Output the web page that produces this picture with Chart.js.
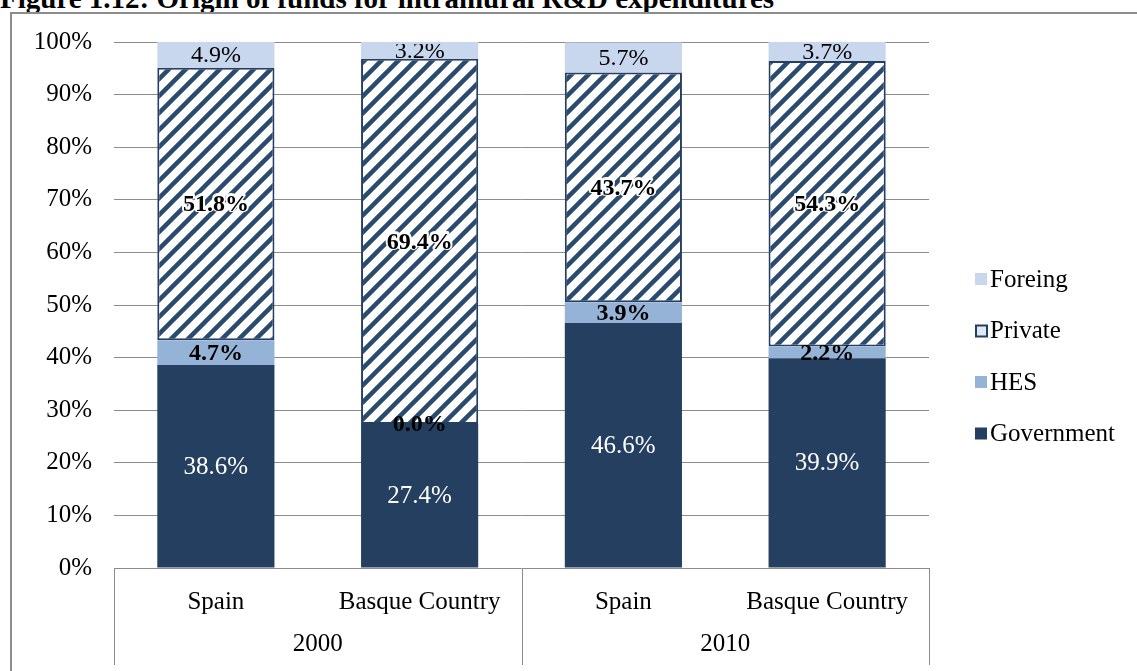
<!DOCTYPE html>
<html>
<head>
<meta charset="utf-8">
<script src="https://cdn.jsdelivr.net/npm/chart.js@4.4.0/dist/chart.umd.min.js"></script>
<style>
  html, body { margin: 0; padding: 0; background: #fff; overflow: hidden; }
  #wrap { position: relative; width: 1137px; height: 671px; overflow: hidden; }
  #title { position: absolute; left: 0; top: -18px; font: bold 29px "Liberation Serif", "Times New Roman", serif; white-space: nowrap; color: #000; }
  #frame { position: absolute; left: 10px; top: 12px; width: 1140px; height: 700px; border: 2px solid #8c8c8c; box-sizing: border-box; }
  canvas { position: absolute; left: 0; top: 0; }
</style>
</head>
<body>
<div id="wrap">
  <div id="title">Figure 1.12: Origin of funds for intramural R&amp;D expenditures</div>
  <div id="frame"></div>
  <canvas id="chart" width="1137" height="671"></canvas>
</div>
<script>
// chart data
const countries = ['Spain', 'Basque Country', 'Spain', 'Basque Country'];
const years = ['2000', '2010'];
const government = [38.6, 27.4, 46.6, 39.9];
const hes = [4.7, 0.0, 3.9, 2.2];
const privateFunds = [51.8, 69.4, 43.7, 54.3];
const foreign = [4.9, 3.2, 5.7, 3.7];
const yTicks = [0, 10, 20, 30, 40, 50, 60, 70, 80, 90, 100];

const SERIF = '"Liberation Serif", "Times New Roman", serif';
const NAVY = '#243f60';

function makeHatch() {
  const size = 17;
  const c = document.createElement('canvas');
  c.width = size; c.height = size;
  const g = c.getContext('2d');
  g.fillStyle = '#fff';
  g.fillRect(0, 0, size, size);
  g.strokeStyle = '#2b4a6f';
  g.lineWidth = 4.5;
  g.beginPath();
  g.moveTo(-size / 2, size / 2); g.lineTo(size / 2, -size / 2);
  g.moveTo(0, size); g.lineTo(size, 0);
  g.moveTo(size / 2, size * 1.5); g.lineTo(size * 1.5, size / 2);
  g.stroke();
  return g.createPattern(c, 'repeat');
}

// value labels inside each segment
const segmentLabels = {
  id: 'segmentLabels',
  afterDatasetsDraw(chart) {
    const ctx = chart.ctx;
    const area = chart.chartArea;
    ctx.save();
    ctx.beginPath();
    ctx.rect(area.left, area.top + 2, area.right - area.left, area.bottom - area.top);
    ctx.clip();
    ctx.textAlign = 'center';
    ctx.textBaseline = 'middle';
    chart.data.datasets.forEach((ds, i) => {
      const meta = chart.getDatasetMeta(i);
      meta.data.forEach((bar, j) => {
        const p = bar.getProps(['x', 'y', 'base'], true);
        const cy = (p.y + p.base) / 2;
        const txt = ds.data[j].toFixed(1) + '%';
        ctx.font = ds.labelFont;
        if (ds.labelHalo) {
          ctx.lineWidth = 4;
          ctx.strokeStyle = '#fff';
          ctx.lineJoin = 'round';
          ctx.strokeText(txt, p.x, cy);
        }
        ctx.fillStyle = ds.labelColor;
        ctx.fillText(txt, p.x, cy + 1);
      });
    });
    ctx.restore();
  }
};

// two level category axis + legend on the right
const axisAndLegend = {
  id: 'axisAndLegend',
  afterDraw(chart) {
    const ctx = chart.ctx;
    const x = chart.scales.x;
    const area = chart.chartArea;
    ctx.save();
    ctx.strokeStyle = '#8c8c8c';
    ctx.lineWidth = 1;
    [area.left, x.getPixelForValue(1.5), area.right].forEach(px => {
      ctx.beginPath();
      ctx.moveTo(Math.round(px) + 0.5, area.bottom);
      ctx.lineTo(Math.round(px) + 0.5, area.bottom + 97);
      ctx.stroke();
    });
    ctx.fillStyle = '#000';
    ctx.font = '25px ' + SERIF;
    ctx.textAlign = 'center';
    ctx.textBaseline = 'middle';
    years.forEach((yr, k) => {
      const cx = (x.getPixelForValue(k * 2) + x.getPixelForValue(k * 2 + 1)) / 2;
      ctx.fillText(yr, cx, area.bottom + 76);
    });

    // legend, reversed order
    const items = chart.data.datasets.slice().reverse();
    ctx.textAlign = 'left';
    ctx.font = '25px ' + SERIF;
    items.forEach((ds, k) => {
      const cy = 279 + k * 51.5;
      if (ds.legendOutline) {
        ctx.fillStyle = '#dfe8f4';
        ctx.fillRect(976, cy - 5, 11, 11);
        ctx.strokeStyle = NAVY;
        ctx.lineWidth = 2;
        ctx.strokeRect(976, cy - 5, 11, 11);
      } else {
        ctx.fillStyle = ds.legendColor;
        ctx.fillRect(975, cy - 6, 12, 12);
      }
      ctx.fillStyle = '#000';
      ctx.fillText(ds.label, 990, cy + 1);
    });
    ctx.restore();
  }
};

const ctx = document.getElementById('chart').getContext('2d');
const chart = new Chart(ctx, {
  type: 'bar',
  data: {
    labels: countries,
    datasets: [
      {
        label: 'Government',
        data: government,
        backgroundColor: NAVY,
        legendColor: NAVY,
        labelFont: '25px ' + SERIF,
        labelColor: '#fff'
      },
      {
        label: 'HES',
        data: hes,
        backgroundColor: '#95b3d7',
        legendColor: '#95b3d7',
        labelFont: 'bold 24px ' + SERIF,
        labelColor: '#000'
      },
      {
        label: 'Private',
        data: privateFunds,
        backgroundColor: makeHatch(),
        borderColor: NAVY,
        borderWidth: 2,
        borderSkipped: false,
        legendOutline: true,
        labelFont: 'bold 24px ' + SERIF,
        labelColor: '#000',
        labelHalo: true
      },
      {
        label: 'Foreing',
        data: foreign,
        backgroundColor: '#c8d7ee',
        legendColor: '#c8d7ee',
        labelFont: '24px ' + SERIF,
        labelColor: '#000'
      }
    ]
  },
  options: {
    responsive: false,
    animation: false,
    barPercentage: 0.575,
    categoryPercentage: 1.0,
    layout: { padding: { top: 42, right: 208, left: 0, bottom: 0 } },
    plugins: {
      legend: { display: false },
      tooltip: { enabled: false }
    },
    scales: {
      x: {
        stacked: true,
        grid: { display: false, drawTicks: false },
        border: { display: false },
        ticks: {
          color: '#000',
          font: { family: SERIF, size: 25 },
          padding: 19,
          maxRotation: 0
        },
        afterFit(axis) { axis.height = 103; }
      },
      y: {
        stacked: true,
        min: 0,
        max: 100,
        afterBuildTicks(axis) { axis.ticks = yTicks.map(v => ({ value: v })); },
        grid: { color: '#8c8c8c', lineWidth: 1, drawTicks: false },
        border: { display: false },
        ticks: {
          color: '#000',
          font: { family: SERIF, size: 25 },
          padding: 22,
          callback: v => v + '%'
        },
        afterFit(axis) { axis.width = 114; }
      }
    }
  },
  plugins: [segmentLabels, axisAndLegend]
});
</script>
</body>
</html>
